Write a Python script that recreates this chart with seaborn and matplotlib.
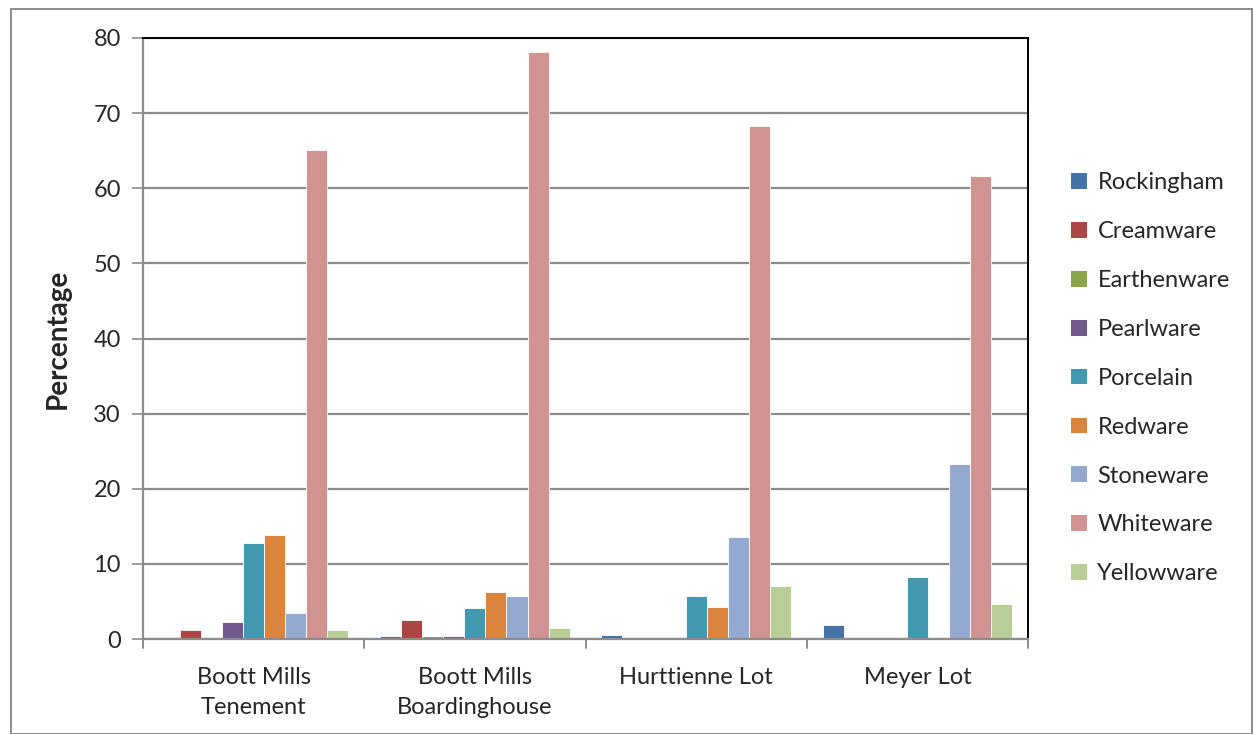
import matplotlib
matplotlib.use("Agg")
import matplotlib.pyplot as plt
from matplotlib.patches import Patch, Rectangle
import seaborn as sns
import pandas as pd

sites = ["Boott Mills\nTenement", "Boott Mills\nBoardinghouse", "Hurttienne Lot", "Meyer Lot"]
wares = ["Rockingham", "Creamware", "Earthenware", "Pearlware", "Porcelain",
         "Redware", "Stoneware", "Whiteware", "Yellowware"]
colors = ["#4572A7", "#AA4643", "#89A54E", "#71588F", "#4198AF",
          "#DB843D", "#93A9CF", "#D19392", "#B9CD96"]

rockingham = [0.0, 0.4, 0.55, 1.8]
creamware = [1.2, 2.5, 0.0, 0.0]
earthenware = [0.0, 0.35, 0.0, 0.0]
pearlware = [2.3, 0.4, 0.0, 0.0]
porcelain = [12.8, 4.1, 5.7, 8.3]
redware = [13.9, 6.2, 4.2, 0.0]
stoneware = [3.5, 5.7, 13.6, 23.3]
whiteware = [65.1, 78.1, 68.3, 61.6]
yellowware = [1.2, 1.45, 7.1, 4.6]

series = [rockingham, creamware, earthenware, pearlware, porcelain,
          redware, stoneware, whiteware, yellowware]

rows = []
for ware, vals in zip(wares, series):
    for site, v in zip(sites, vals):
        rows.append({"Site": site, "Ware": ware, "Percentage": v})
df = pd.DataFrame(rows)

sns.set_theme(style="white")
plt.rcParams["font.family"] = ["Lato", "DejaVu Sans"]

fig = plt.figure(figsize=(12.54, 7.34), dpi=100)
W, H = 1254, 734
ax = fig.add_axes([143 / W, 1 - 639 / H, (1028 - 143) / W, (639 - 38) / H])

sns.barplot(data=df, x="Site", y="Percentage", hue="Ware", order=sites,
            hue_order=wares, palette=colors, saturation=1, width=0.857, gap=0,
            edgecolor="white", linewidth=0.6, legend=False, ax=ax)

ax.set_ylim(0, 80)
ax.set_xlim(-0.5, 3.5)
ax.set_yticks(range(0, 81, 10))
ax.yaxis.grid(True, color="#8c8c8c", linewidth=1.6)
ax.set_axisbelow(True)

ax.set_xlabel("")
ax.set_ylabel("Percentage", fontsize=20, fontweight="bold", labelpad=16)
ax.tick_params(axis="y", labelsize=17, length=8, width=1.2, color="#8c8c8c",
               direction="out", left=True, pad=8)
ax.tick_params(axis="x", labelsize=17, length=0, pad=20)
for lab in ax.get_xticklabels():
    lab.set_linespacing(1.55)

# category separator ticks on the x axis
for xb in [-0.5, 0.5, 1.5, 2.5, 3.5]:
    ax.plot([xb, xb], [0, -1.2], color="#8c8c8c", linewidth=1.4,
            clip_on=False, zorder=3)

for side in ["left", "bottom"]:
    ax.spines[side].set_color("#8c8c8c")
    ax.spines[side].set_linewidth(1.6)
for side in ["top", "right"]:
    ax.spines[side].set_color("black")
    ax.spines[side].set_linewidth(1.4)

handles = [Patch(facecolor=c, edgecolor="none", label=w) for w, c in zip(wares, colors)]
fig.legend(handles=handles, loc="upper left", bbox_to_anchor=(1062 / W, 1 - 163 / H),
           frameon=False, fontsize=17, handlelength=0.65, handleheight=0.65,
           handletextpad=0.45, labelspacing=1.18, borderaxespad=0)

fig.patches.append(Rectangle((11 / W, 0), (1252 - 11) / W, 1 - 9 / H,
                             transform=fig.transFigure, fill=False,
                             edgecolor="#8c8c8c", linewidth=1.4))

fig.savefig("out.png", dpi=100, facecolor="white")
